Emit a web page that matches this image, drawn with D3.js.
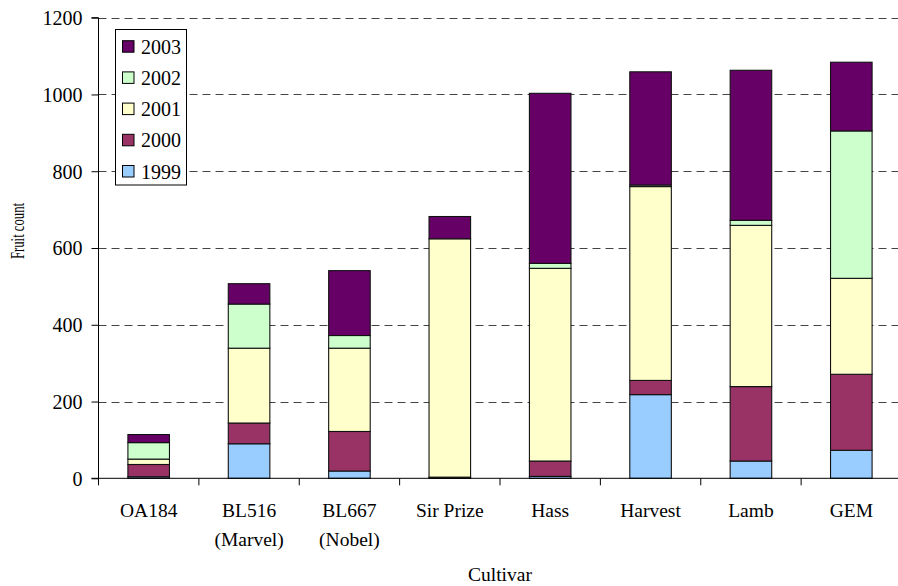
<!DOCTYPE html>
<html>
<head>
<meta charset="utf-8">
<script src="https://cdn.jsdelivr.net/npm/d3@7"></script>
<style>
  html, body { margin: 0; padding: 0; background: #fff; }
  svg { display: block; }
  text { font-family: "Liberation Serif", "Times New Roman", serif; fill: #000; }
</style>
</head>
<body>
<svg id="chart" width="898" height="586"></svg>
<script>
// Fruit count per cultivar, stacked by harvest year
const categories = ["OA184", "BL516\n(Marvel)", "BL667\n(Nobel)", "Sir Prize", "Hass", "Harvest", "Lamb", "GEM"];
const years = ["1999", "2000", "2001", "2002", "2003"];
const y1999 = [4, 90, 19, 1, 5, 218, 45, 73];
const y2000 = [32, 54, 103, 2, 40, 37, 194, 198];
const y2001 = [14, 195, 217, 621, 502, 505, 420, 250];
const y2002 = [43, 115, 33, 0, 13, 4, 13, 384];
const y2003 = [21, 53, 169, 58, 443, 295, 391, 179];
const yTicks = [0, 200, 400, 600, 800, 1000, 1200];
const colors = ["#99CCFF", "#993366", "#FFFFCC", "#CCFFCC", "#660066"];

const FONT = '"Liberation Serif", "Times New Roman", serif';

const seriesValues = [y1999, y2000, y2001, y2002, y2003];
const rows = categories.map((c, i) => {
  const r = { cat: c };
  years.forEach((yr, k) => { r[yr] = seriesValues[k][i]; });
  return r;
});

const svg = d3.select("#chart").style("font-family", FONT);
const plotLeft = 98.5, plotRight = 901.5, plotTop = 17.7, plotBottom = 478.3;

const x = d3.scaleBand().domain(categories).range([plotLeft, plotRight])
  .paddingInner(0.586).paddingOuter(0.293);
const y = d3.scaleLinear().domain([0, 1200]).range([plotBottom, plotTop]);
const color = d3.scaleOrdinal().domain(years).range(colors);

// dashed gridlines
svg.append("g")
  .selectAll("line")
  .data(yTicks.filter(d => d > 0))
  .join("line")
  .attr("x1", plotLeft).attr("x2", 898)
  .attr("y1", d => Math.round(y(d)) + 0.5).attr("y2", d => Math.round(y(d)) + 0.5)
  .attr("stroke", "#444").attr("stroke-width", 1)
  .attr("stroke-dasharray", "8,5");

// stacked bars
const stack = d3.stack().keys(years)(rows);
svg.append("g")
  .selectAll("g")
  .data(stack)
  .join("g")
  .attr("fill", d => color(d.key))
  .selectAll("rect")
  .data(d => d.filter(s => s[1] - s[0] > 0))
  .join("rect")
  .attr("x", d => x(d.data.cat))
  .attr("width", x.bandwidth())
  .attr("y", d => y(d[1]))
  .attr("height", d => y(d[0]) - y(d[1]))
  .attr("stroke", "#111").attr("stroke-width", 1.1);

// y axis
const yAxis = d3.axisLeft(y).tickValues(yTicks).tickSize(7).tickPadding(9).tickFormat(d3.format("d"));
const gy = svg.append("g").attr("transform", `translate(${plotLeft},0)`).call(yAxis)
  .attr("font-family", null).attr("font-size", null);
gy.select(".domain").attr("stroke", "#000").attr("d", `M-7,${plotTop}H0V${plotBottom}H-7`);
gy.selectAll(".tick line").attr("stroke", "#000");
gy.selectAll(".tick text").style("font-family", FONT).style("font-size", "20px").attr("dy", "0.34em");

// x axis line with ticks between categories
const gx = svg.append("g");
gx.append("line").attr("x1", plotLeft).attr("x2", 898).attr("y1", plotBottom).attr("y2", plotBottom)
  .attr("stroke", "#000").attr("stroke-width", 1);
gx.selectAll("line.tk")
  .data(d3.range(categories.length + 1))
  .join("line").attr("class", "tk")
  .attr("x1", i => plotLeft + i * x.step()).attr("x2", i => plotLeft + i * x.step())
  .attr("y1", plotBottom).attr("y2", plotBottom + 7)
  .attr("stroke", "#000");

// category labels
const labels = gx.selectAll("text.cat")
  .data(categories)
  .join("text").attr("class", "cat")
  .attr("text-anchor", "middle")
  .style("font-family", FONT)
  .style("font-size", "19.5px")
  .attr("x", d => x(d) + x.bandwidth() / 2)
  .attr("y", 517);
labels.selectAll("tspan")
  .data(d => d.split("\n").map(t => ({ t, x: x(d) + x.bandwidth() / 2 })))
  .join("tspan")
  .attr("x", d => d.x)
  .attr("dy", (d, i) => i === 0 ? 0 : 29)
  .text(d => d.t);

// axis titles
svg.append("text")
  .attr("x", 500).attr("y", 581)
  .attr("text-anchor", "middle")
  .style("font-family", FONT)
  .style("font-size", "19.5px")
  .text("Cultivar");

svg.append("text")
  .attr("transform", "translate(24,231) rotate(-90)")
  .attr("text-anchor", "middle")
  .style("font-family", FONT)
  .style("font-size", "19px")
  .attr("textLength", 56).attr("lengthAdjust", "spacingAndGlyphs")
  .text("Fruit count");

// legend
const legend = svg.append("g");
legend.append("rect")
  .attr("x", 115.5).attr("y", 29.5).attr("width", 71).attr("height", 155.5)
  .attr("fill", "#fff").attr("stroke", "#000").attr("stroke-width", 1);
const legendYears = years.slice().reverse();
const item = legend.selectAll("g.item")
  .data(legendYears)
  .join("g").attr("class", "item")
  .attr("transform", (d, i) => `translate(0,${46.7 + i * 31.2})`);
item.append("rect")
  .attr("x", 122.5).attr("y", -6).attr("width", 11.5).attr("height", 11.5)
  .attr("fill", d => color(d)).attr("stroke", "#000").attr("stroke-width", 1);
item.append("text")
  .attr("x", 141).attr("y", 0).attr("dy", "0.35em")
  .style("font-family", FONT)
  .style("font-size", "20px")
  .text(d => d);
</script>
</body>
</html>
